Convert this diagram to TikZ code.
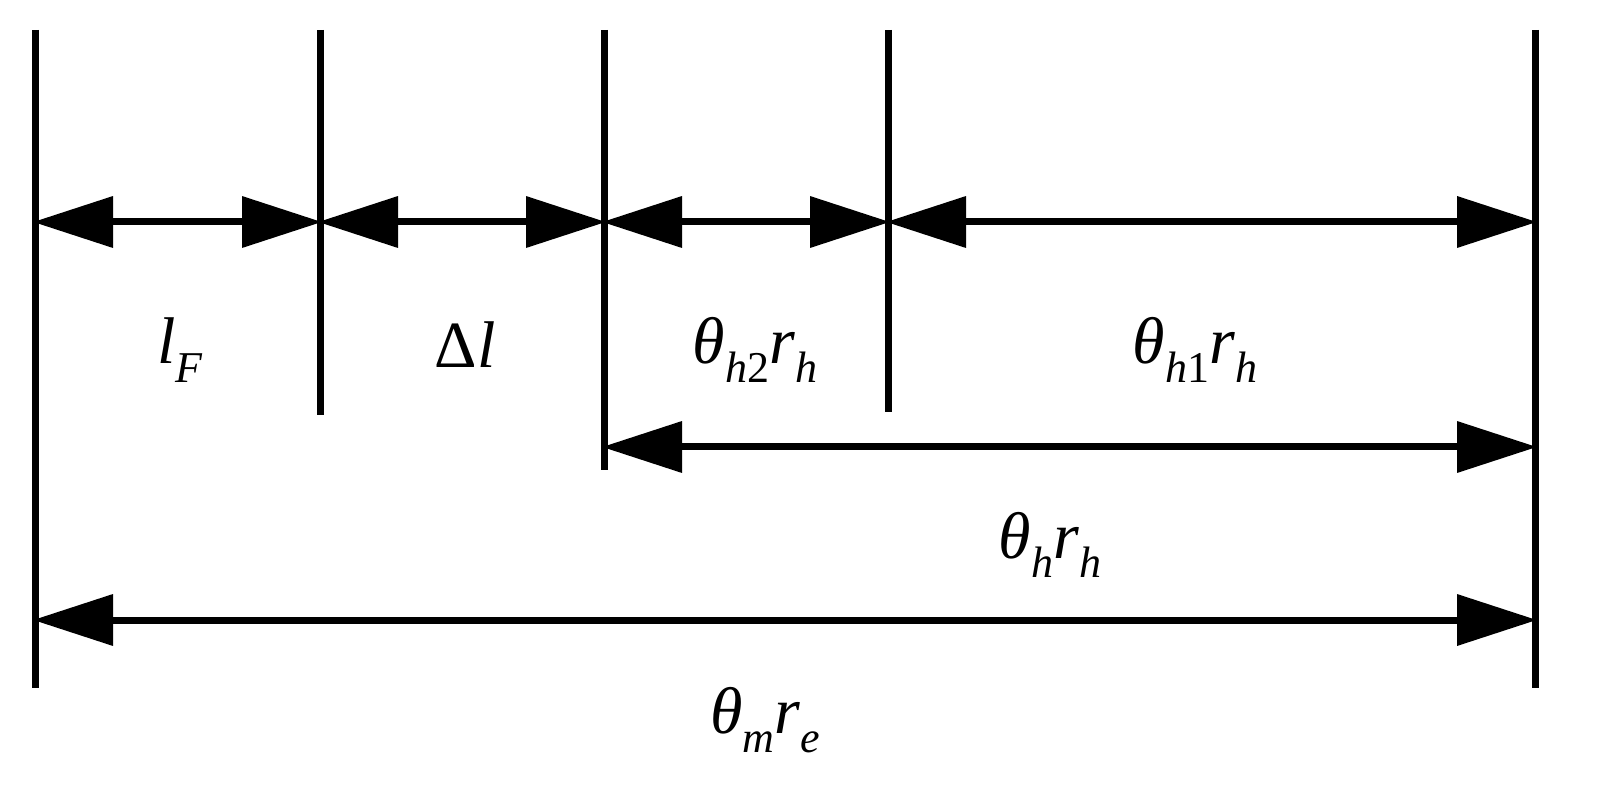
\documentclass[tikz,border=0pt]{standalone}
\usepackage{fontspec}
\setmainfont{Liberation Serif}
\usetikzlibrary{arrows.meta}
\newcommand{\mysub}[1]{\raisebox{-0.28em}{\fontsize{22}{26}\selectfont #1}}
\begin{document}
\begin{tikzpicture}[x=0.5pt,y=-0.5pt,
  bar/.style={line width=3.5pt},
  dim/.style={line width=3.5pt,{Triangle[length=40pt,width=25pt]}-{Triangle[length=40pt,width=25pt]},shorten <=-1pt,shorten >=-1pt},
  lab/.style={font=\fontsize{33}{40}\selectfont\itshape,inner sep=0pt}]
\useasboundingbox (0,0) rectangle (1624,791);
\coordinate (a1) at (35,30); \coordinate (a2) at (35,688);
\coordinate (b1) at (320,30); \coordinate (b2) at (320,415);
\coordinate (c1) at (604,30); \coordinate (c2) at (604,470);
\coordinate (d1) at (888,30); \coordinate (d2) at (888,412);
\coordinate (e1) at (1535,30); \coordinate (e2) at (1535,688);
\foreach \p in {a,b,c,d,e} \draw[bar] (\p1) -- (\p2);
\coordinate (A) at (35,222); \coordinate (B) at (320,222); \coordinate (C) at (604,222);
\coordinate (D) at (888,222); \coordinate (E) at (1535,222);
\draw[dim] (A) -- (B); \draw[dim] (B) -- (C); \draw[dim] (C) -- (D); \draw[dim] (D) -- (E);
\coordinate (C2) at (604,447); \coordinate (E2) at (1535,447);
\draw[dim] (C2) -- (E2);
\coordinate (A3) at (35,620); \coordinate (E3) at (1535,620);
\draw[dim] (A3) -- (E3);
\node[lab] (t1) at (180,350) {l\mysub{F}};
\node[lab] (t2) at (465,345) {{\upshape Δ}l};
\node[lab] (t3) at (755,350) {θ\mysub{h{\upshape 2}}r\mysub{h}};
\node[lab] (t4) at (1195,350) {θ\mysub{h{\upshape 1}}r\mysub{h}};
\node[lab] (t5) at (1050,545) {θ\mysub{h}r\mysub{h}};
\node[lab] (t6) at (765,720) {θ\mysub{m}r\mysub{e}};
\end{tikzpicture}
\end{document}
